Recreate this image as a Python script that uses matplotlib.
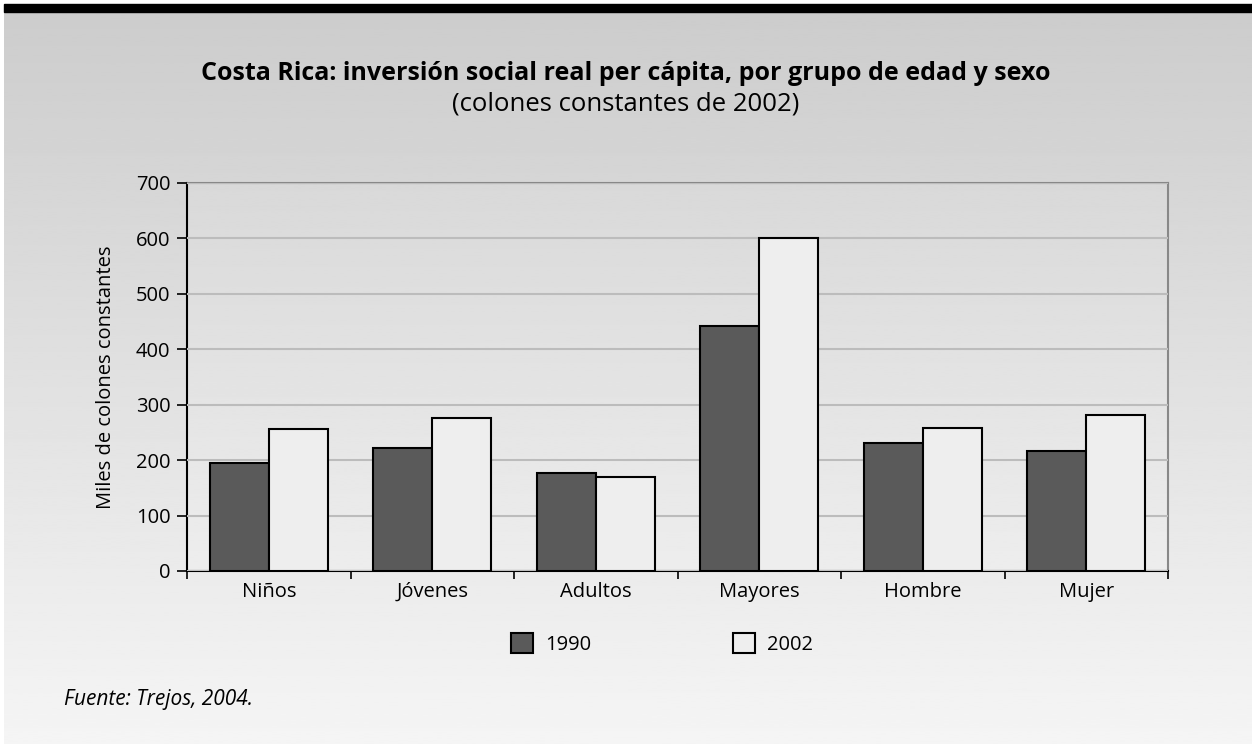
import matplotlib.pyplot as plt
import numpy as np
from matplotlib.patches import Rectangle

plt.rcParams['font.family'] = ['Open Sans', 'DejaVu Sans']

# data
categories = ['Niños', 'Jóvenes', 'Adultos', 'Mayores', 'Hombre', 'Mujer']
v1990 = [194, 222, 177, 442, 231, 216]
v2002 = [256, 276, 170, 601, 258, 281]
yticks = [0, 100, 200, 300, 400, 500, 600, 700]

W, H = 1252, 744
fig = plt.figure(figsize=(W / 100, H / 100), dpi=100)
fig.patch.set_facecolor('white')

# gray gradient background + black bar on top
bg = fig.add_axes([4 / W, 0, 1 - 4 / W, 1 - 4 / H], zorder=-10)
grad = np.linspace(0.80, 0.96, 256).reshape(-1, 1)
bg.imshow(grad, cmap='gray', vmin=0, vmax=1, aspect='auto', extent=[0, 1, 1, 0])
bg.axis('off')
fig.patches.append(Rectangle((4 / W, 1 - 12 / H), 1, 8 / H, transform=fig.transFigure,
                             color='black', zorder=5))

ax = fig.add_axes([187 / W, 1 - 571 / H, 981 / W, 388 / H])
ax.patch.set_visible(False)
pgrad = np.linspace(0.85, 0.93, 256).reshape(-1, 1)
ax.imshow(pgrad, cmap='gray', vmin=0, vmax=1, aspect='auto',
          extent=[-0.5, 5.5, 0, 700], origin='upper', zorder=0)

x = np.arange(len(categories))
bw = 0.36
ax.bar(x - bw / 2, v1990, bw, color='#5a5a5a', edgecolor='black', linewidth=1.5,
       label='1990', zorder=3)
ax.bar(x + bw / 2, v2002, bw, color='#eeeeee', edgecolor='black', linewidth=1.5,
       label='2002', zorder=3)

ax.set_xlim(-0.5, 5.5)
ax.set_ylim(0, 700)
ax.set_yticks(yticks)
ax.yaxis.grid(True, color='#bcbcbc', linewidth=1.5, zorder=1)
ax.set_axisbelow(False)
ax.tick_params(axis='y', length=7, width=1.2, labelsize=14.5, pad=5)
ax.set_xticks(x)
ax.set_xticklabels(categories)
ax.set_xticks(np.arange(-0.5, 6, 1), minor=True)
ax.tick_params(axis='x', which='major', length=0, labelsize=14.5, pad=8)
ax.tick_params(axis='x', which='minor', length=6, width=1.2, direction='out')
for s in ['top', 'right']:
    ax.spines[s].set_color('#888888')
    ax.spines[s].set_linewidth(1.5)
for s in ['left', 'bottom']:
    ax.spines[s].set_color('black')
    ax.spines[s].set_linewidth(1.5)
ax.set_ylabel('Miles de colones constantes', fontsize=14.5, labelpad=14)

fig.legend(loc='center', bbox_to_anchor=(662 / W, 1 - 644 / H), ncol=2, frameon=False,
           fontsize=14.5, handlelength=1.1, handleheight=1.1, handletextpad=0.6,
           columnspacing=7.0)

fig.text(626 / W, 1 - 74 / H, 'Costa Rica: inversión social real per cápita, por grupo de edad y sexo',
         ha='center', va='center', fontsize=18, fontweight='bold')
fig.text(626 / W, 1 - 104 / H, '(colones constantes de 2002)',
         ha='center', va='center', fontsize=18.5)
fig.text(64 / W, 1 - 699 / H, 'Fuente: Trejos, 2004.', ha='left', va='center',
         fontsize=15, style='italic')

fig.savefig('out.png', dpi=100)
